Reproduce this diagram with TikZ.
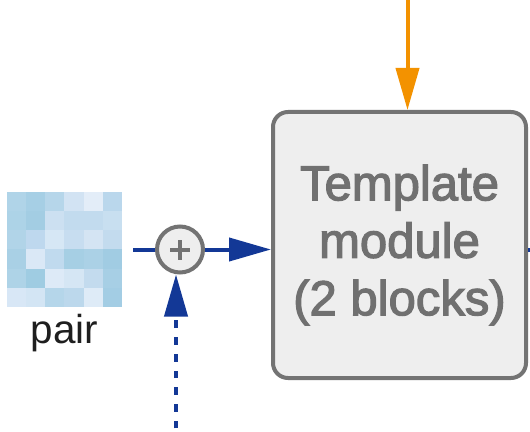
\documentclass[tikz,border=0pt]{standalone}
\usepackage{fontspec}
\setmainfont{Liberation Sans}
\newfontfamily\medfont{Liberation Sans}[FakeBold=2.5]
\usepackage{tikz}
\usetikzlibrary{arrows.meta,positioning}
\definecolor{flowblue}{RGB}{19,56,150}
\definecolor{featorange}{RGB}{243,146,0}
\definecolor{boxgray}{RGB}{115,115,115}
\definecolor{boxfill}{RGB}{238,238,238}
\definecolor{txtgray}{RGB}{112,112,112}

\begin{document}
\begin{tikzpicture}[
  flow/.style={draw=flowblue,line width=0.08cm,-{Triangle[length=0.84cm,width=0.46cm]}},
  feat/.style={draw=featorange,line width=0.08cm,-{Triangle[length=0.84cm,width=0.46cm]}},
  dotflow/.style={flow,dash pattern=on 0.154cm off 0.18cm},
  module/.style={draw=boxgray,fill=boxfill,line width=0.08cm,rounded corners=0.3cm,
    minimum width=5.06cm,minimum height=5.32cm,align=center,text=txtgray,
    font=\medfont\fontsize{27.9}{32.7}\selectfont}]
\useasboundingbox (0,0) rectangle (10.6,-8.64);
\node[minimum size=2.3cm,inner sep=0,outer xsep=0.22cm] (pair) at (1.29,-4.99){};
\node[below=0.14cm of pair,inner sep=0,font=\fontsize{23}{27}\selectfont,
text={rgb,255:red,30;green,30;blue,30}] (pairlbl){pair};
\node[right=0.44cm of pair,circle,draw=boxgray,fill=boxfill,line width=0.08cm,
minimum size=0.92cm,inner sep=0] (plus){};
\node[right=1.32cm of plus,yshift=0.09cm,module] (tmpl){Template\\module\\(2 blocks)};
% pair representation cells
\begin{scope}[shift={(pair.center)}]
\foreach \row [count=\y from 0] in {
  {B0D4E8,A6CFE5,B6D6EA,D2E3F3,E3EDF8,BAD7EC},
  {ADD3E7,A3CDE3,CCE0F1,C2DBEE,C2DBEE,C8DFF0},
  {B1D4E8,BED8EE,D6E7F5,C7DDF0,D4E4F3,C3DBEE},
  {A9D0E5,DAE8F6,C0DAEE,A6CFE4,ABD1E6,A1CCE3},
  {AED3E7,9FCCE2,DDEAF7,D5E6F4,C3DBEE,A7CFE5},
  {D8E7F6,D3E5F4,B5D6EA,BCD8EC,DEEBF7,A3CDE4}}
  \foreach \hex [count=\x from 0] in \row {
    \definecolor{cell}{HTML}{\hex}
    \fill[cell] (\x*0.3833-1.15,1.15-\y*0.3833) rectangle ++(0.3833,-0.3833);
  }
\end{scope}
\draw[boxgray,line width=0.08cm] ([xshift=-0.2cm]plus.center) -- ([xshift=0.2cm]plus.center)
  ([yshift=-0.2cm]plus.center) -- ([yshift=0.2cm]plus.center);
\coordinate (tplfeat) at (8.15,0.3);
\coordinate (posenc) at (3.52,-8.9);
\coordinate (exit) at (10.8,-4.99);
\draw[flowblue,line width=0.08cm] (pair) -- (plus);
\draw[flow] (plus) -- (plus -| tmpl.west);
\draw[flowblue,line width=0.08cm] (plus -| tmpl.east) -- (exit);
\draw[feat] (tplfeat) -- (tplfeat |- tmpl.north);
\draw[dotflow] (posenc) -- (posenc |- plus.south);
\end{tikzpicture}
\end{document}
